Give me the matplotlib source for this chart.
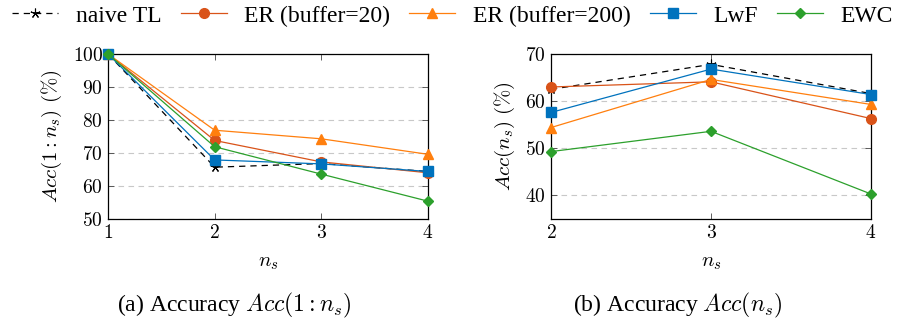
import matplotlib
matplotlib.use('Agg')
import matplotlib.pyplot as plt
from matplotlib.ticker import FuncFormatter
from matplotlib.lines import Line2D

plt.rcParams['font.family'] = ['Liberation Serif', 'DejaVu Serif']
plt.rcParams['mathtext.fontset'] = 'cm'

methods = ['naive TL', 'ER (buffer=20)', 'ER (buffer=200)', 'LwF', 'EWC']
colors = ['black', '#D95319', '#FF7F0E', '#0072BD', '#2CA02C']
markers = [(5, 2, 0), 'o', '^', 's', 'D']

# (a) Acc(1:n_s)
ns_a = [1, 2, 3, 4]
acc_cum = {
    'naive TL':        [100, 65.7, 66.8, 64.4],
    'ER (buffer=20)':  [100, 73.8, 67.3, 64.0],
    'ER (buffer=200)': [100, 76.9, 74.3, 69.6],
    'LwF':             [100, 67.9, 66.7, 64.4],
    'EWC':             [100, 71.9, 63.6, 55.4],
}

# (b) Acc(n_s)
ns_b = [2, 3, 4]
acc_cur = {
    'naive TL':        [62.5, 67.8, 61.6],
    'ER (buffer=20)':  [63.0, 64.1, 56.3],
    'ER (buffer=200)': [54.4, 64.6, 59.3],
    'LwF':             [57.6, 66.8, 61.4],
    'EWC':             [49.3, 53.6, 40.3],
}

fig = plt.figure(figsize=(8.98, 3.21), dpi=100)
ax1 = fig.add_axes([108/898, 1 - 219/321, 320/898, 165/321])
ax2 = fig.add_axes([551/898, 1 - 219/321, 320/898, 165/321])

mathfmt = FuncFormatter(lambda v, p: '$%g$' % v)


def style_for(name, m):
    kw = dict(lw=0.9, marker=m, ms=7 if m != 'D' else 5.5)
    if name == 'naive TL':
        kw.update(ls=(0, (5, 4)), mew=0.8)
    return kw


def draw(ax, xs, data, ylim, yticks):
    for name, c, m in zip(methods, colors, markers):
        ax.plot(xs, data[name], color=c, clip_on=False, zorder=3,
                **style_for(name, m))
    ax.set_xlim(xs[0], xs[-1])
    ax.set_ylim(*ylim)
    ax.set_xticks(xs)
    ax.set_yticks(yticks)
    ax.xaxis.set_major_formatter(mathfmt)
    ax.yaxis.set_major_formatter(mathfmt)
    ax.tick_params(direction='in', top=True, right=True, length=4,
                   width=0.6, labelsize=14, color='#444444')
    ax.yaxis.grid(True, ls=(0, (5, 4)), color='#c8c8c8', lw=0.8)
    for s in ax.spines.values():
        s.set_linewidth(0.9)
    ax.set_xlabel('$n_s$', fontsize=15, labelpad=8)


draw(ax1, ns_a, acc_cum, (50, 100), [50, 60, 70, 80, 90, 100])
draw(ax2, ns_b, acc_cur, (35, 70), [40, 50, 60, 70])
ax1.set_ylabel(r'$Acc(1:n_s)\ (\%)$', fontsize=15, labelpad=6)
ax2.set_ylabel(r'$Acc(n_s)\ (\%)$', fontsize=15, labelpad=6)

handles = [Line2D([], [], color=c, **style_for(name, m))
           for name, c, m in zip(methods, colors, markers)]
fig.legend(handles, methods, loc='center', bbox_to_anchor=(0.504, 1 - 16/321),
           ncol=5, frameon=False, fontsize=17, handlelength=1.95,
           columnspacing=0.8, handletextpad=0.75, borderaxespad=0)

fig.text(234/898, 1 - 305/321, r'(a) Accuracy $Acc(1:n_s)$', ha='center',
         va='center', fontsize=17)
fig.text(678/898, 1 - 305/321, r'(b) Accuracy $Acc(n_s)$', ha='center',
         va='center', fontsize=17)

fig.savefig('out.png', dpi=100)
